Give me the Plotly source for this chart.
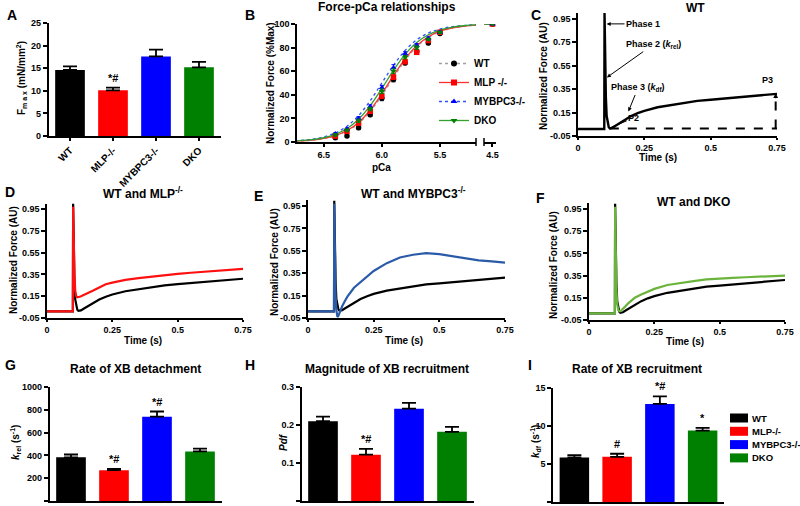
import plotly.graph_objects as go

W, H = 800, 506
FONT = "Liberation Sans, Arial, sans-serif"

# ---------------- data ----------------
groups = ["WT", "MLP-/-", "MYBPC3-/-", "DKO"]
colors = ["#000000", "#ff0000", "#0000ff", "#008000"]

fmax = [14.6, 10.1, 17.6, 15.2]
fmax_err = [0.8, 0.6, 1.5, 1.2]
krel = [383, 270, 740, 435]
krel_err = [25, 12, 45, 25]
pdf = [0.210, 0.122, 0.243, 0.182]
pdf_err = [0.012, 0.015, 0.015, 0.013]
kdf = [5.85, 5.95, 12.9, 9.4]
kdf_err = [0.3, 0.4, 1.0, 0.35]
sig_A = ["", "*#", "", ""]
sig_G = ["", "*#", "*#", ""]
sig_H = ["", "*#", "", ""]
sig_I = ["", "#", "*#", "*"]

pca_pts = [6.4, 6.3, 6.2, 6.1, 6.0, 5.9, 5.8, 5.7, 5.6, 5.5, 4.5]
F_wt = [3.5, 5, 12, 23, 37, 53, 67, 77, 84, 92, 100]
F_mlp = [5, 9, 16, 26, 39, 55, 68, 76, 86, 93, 100]
F_myb = [7, 11, 20, 30, 46, 63, 75, 82, 88, 93, 100]
F_dko = [6, 10, 18, 28, 43, 60, 72, 80, 87, 93, 100]
E_wt = [1, 1, 1.5, 1.5, 2, 2, 1.5, 1.5, 1.5, 1, 0]
E_mlp = [1, 1, 1.5, 1.5, 2, 2, 1.5, 1.5, 1.5, 1, 0]
E_myb = [1, 1, 1.5, 1.5, 2, 2.5, 1.5, 1.5, 1, 1, 0]
E_dko = [1, 1, 1.5, 1.5, 2, 2, 1.5, 1.5, 1, 1, 0]

pca_fit = [6.75, 6.6, 6.5, 6.4, 6.3, 6.2, 6.1, 6.0, 5.9, 5.8, 5.7, 5.6, 5.5, 5.4, 5.3, 5.2, 4.5]
fit_wt = [0.7, 1.5, 2.8, 5.1, 9.1, 15.7, 25.8, 39.3, 54.6, 69.2, 80.7, 88.6, 93.5, 96.4, 98.0, 98.9, 100]
fit_mlp = [0.8, 1.6, 3.0, 5.5, 9.7, 16.6, 27.1, 40.9, 56.2, 70.5, 81.6, 89.2, 93.9, 96.6, 98.1, 99.0, 100]
fit_myb = [1.0, 2.3, 4.3, 7.7, 13.4, 22.4, 35.0, 50.0, 65.0, 77.6, 86.6, 92.3, 95.7, 97.7, 98.7, 99.3, 100]
fit_dko = [0.9, 2.0, 3.6, 6.5, 11.4, 19.3, 30.8, 45.3, 60.7, 74.2, 84.3, 90.9, 94.9, 97.2, 98.5, 99.2, 100]

t = [0, 0.02, 0.04, 0.06, 0.08, 0.099, 0.1, 0.102, 0.105, 0.108, 0.112, 0.116, 0.12, 0.125, 0.13,
     0.14, 0.15, 0.175, 0.2, 0.225, 0.25, 0.3, 0.35, 0.4, 0.45, 0.5, 0.55, 0.6, 0.65, 0.7, 0.75]
tr_wt = [0.01, 0.01, 0.01, 0.01, 0.01, 0.01, 1.0, 0.55, 0.28, 0.12, 0.05, 0.025, 0.015, 0.015, 0.02,
         0.035, 0.05, 0.09, 0.12, 0.145, 0.165, 0.195, 0.215, 0.235, 0.25, 0.26, 0.27, 0.28, 0.29, 0.30, 0.31]
tr_mlp = [0.01, 0.01, 0.01, 0.01, 0.01, 0.01, 0.97, 0.6, 0.35, 0.2, 0.15, 0.14, 0.14, 0.145, 0.15,
          0.16, 0.17, 0.2, 0.23, 0.26, 0.275, 0.30, 0.315, 0.33, 0.345, 0.355, 0.365, 0.375, 0.385, 0.395, 0.40]
tr_myb = [0.01, 0.01, 0.01, 0.01, 0.01, 0.01, 0.97, 0.45, 0.15, 0.02, -0.04, -0.03, 0.0, 0.03, 0.055,
          0.10, 0.14, 0.22, 0.27, 0.325, 0.37, 0.44, 0.49, 0.515, 0.53, 0.52, 0.50, 0.48, 0.465, 0.455, 0.445]
tr_dko = [0.01, 0.01, 0.01, 0.01, 0.01, 0.01, 0.97, 0.5, 0.22, 0.09, 0.04, 0.03, 0.03, 0.04, 0.05,
          0.075, 0.10, 0.15, 0.18, 0.205, 0.23, 0.265, 0.285, 0.30, 0.315, 0.325, 0.33, 0.335, 0.34, 0.345, 0.35]

trace_ticks = [-0.05, 0.15, 0.35, 0.55, 0.75, 0.95]
time_ticks = [0, 0.25, 0.5, 0.75]

# ---------------- helpers ----------------
def xd(a, b):
    return [a / W, b / W]

def yd(top, bottom):
    return [1 - bottom / H, 1 - top / H]

def axstyle(**kw):
    base = dict(showline=True, linecolor="black", linewidth=1.5, ticks="outside", ticklen=4,
                tickwidth=1.5, tickcolor="black", showgrid=False, zeroline=False, automargin=False,
                tickfont=dict(size=9, family=FONT, color="black", weight="bold"))
    base.update(kw)
    return base

fig = go.Figure()
annots = []
shapes = []

def pann(px, py, text, size=10, angle=0, xanchor="center", yanchor="middle"):
    annots.append(dict(x=px / W, y=1 - py / H, xref="paper", yref="paper", text=text, showarrow=False,
                       textangle=angle, xanchor=xanchor, yanchor=yanchor,
                       font=dict(size=size, family=FONT, color="black", weight="bold")))

# ---------------- bar panels ----------------
def bar_panel(xa, ya, vals, errs, sig):
    xr = "x" if xa == 1 else f"x{xa}"
    yr = "y" if ya == 1 else f"y{ya}"
    fig.add_trace(go.Bar(x=groups, y=vals, marker=dict(color=colors, line=dict(width=0)),
                         width=0.69, xaxis=xr, yaxis=yr, showlegend=False,
                         error_y=dict(type="data", array=errs, arrayminus=[0] * len(errs), symmetric=False,
                                      color="black", thickness=1.8, width=7)))
    for i, g in enumerate(groups):
        if sig[i]:
            annots.append(dict(x=g, y=vals[i] + errs[i], xref=xr, yref=yr, text=sig[i], showarrow=False,
                               yanchor="bottom", yshift=2,
                               font=dict(size=11, family=FONT, color="black", weight="bold")))

bar_panel(1, 1, fmax, fmax_err, sig_A)
bar_panel(8, 8, krel, krel_err, sig_G)
bar_panel(9, 9, pdf, pdf_err, sig_H)
bar_panel(10, 10, kdf, kdf_err, sig_I)

# legend for the bar panels (swatch + label per group)
for i, g in enumerate(groups):
    yc = 418 + i * 13.3
    shapes.append(dict(type="rect", xref="paper", yref="paper", x0=730 / W, x1=748 / W,
                       y0=1 - (yc + 4.5) / H, y1=1 - (yc - 4.5) / H,
                       fillcolor=colors[i], line=dict(width=0)))
    pann(750, yc, g, size=9.5, xanchor="left")

# ---------------- panel B ----------------
series = [
    ("WT", F_wt, E_wt, fit_wt, "#000000", "#a0a0a0", "dot", "circle"),
    ("MLP -/-", F_mlp, E_mlp, fit_mlp, "#ff0000", "#ff3030", "solid", "square"),
    ("MYBPC3-/-", F_myb, E_myb, fit_myb, "#0000ff", "#3050ff", "dot", "triangle-up"),
    ("DKO", F_dko, E_dko, fit_dko, "#008000", "#30a030", "solid", "triangle-down"),
]
for name, F, E, fit, mc, lc, dash, sym in series:
    for xr in ["x2", "x3"]:
        fig.add_trace(go.Scatter(x=pca_fit, y=fit, mode="lines", line=dict(color=lc, width=1.3, dash=dash, shape="spline"),
                                 xaxis=xr, yaxis="y2", showlegend=False, hoverinfo="skip"))
for name, F, E, fit, mc, lc, dash, sym in series:
    for xr in ["x2", "x3"]:
        fig.add_trace(go.Scatter(x=pca_pts, y=F, mode="markers",
                                 marker=dict(color=mc, size=5.5, symbol=sym),
                                 error_y=dict(type="data", array=E, color=mc, thickness=1, width=2),
                                 xaxis=xr, yaxis="y2", showlegend=False))
    fig.add_trace(go.Scatter(x=[None], y=[None], mode="lines+markers", name=name,
                             line=dict(color=lc, width=1.3, dash=dash),
                             marker=dict(color=mc, size=6, symbol=sym), xaxis="x2", yaxis="y2",
                             legend="legend"))

# ---------------- traces C-F ----------------
def trace(xr, yr, y, color, width=2.2):
    fig.add_trace(go.Scatter(x=t, y=y, mode="lines", line=dict(color=color, width=width),
                             xaxis=xr, yaxis=yr, showlegend=False))

trace("x4", "y4", tr_wt, "#000000", 2.4)
trace("x5", "y5", tr_wt, "#000000")
trace("x5", "y5", tr_mlp, "#ff1010")
trace("x6", "y6", tr_wt, "#000000")
trace("x6", "y6", tr_myb, "#2b5ba8")
trace("x7", "y7", tr_wt, "#000000")
trace("x7", "y7", tr_dko, "#6ab43c")

# ---------------- layout axes ----------------
layout = dict(
    template="none",
    width=W, height=H, autosize=False, margin=dict(l=0, r=0, t=0, b=0, pad=0),
    paper_bgcolor="white", plot_bgcolor="white",
    barmode="overlay", font=dict(family=FONT, color="black", weight="bold"),
)
cat_common = dict(type="category", categoryorder="array", categoryarray=groups, range=[-0.5, 3.5])
layout["xaxis"] = axstyle(domain=xd(48.5, 220.5), anchor="y", tickangle=-45, ticklen=3,
                          tickfont=dict(size=10, family=FONT, color="black", weight="bold"), **cat_common)
layout["yaxis"] = axstyle(domain=yd(23, 136), anchor="x", range=[0, 25], tickvals=[0, 5, 10, 15, 20, 25])

layout["xaxis2"] = axstyle(domain=xd(297, 476), anchor="y2", range=[6.73, 5.19], tickvals=[6.5, 6.0, 5.5],
                           ticktext=["6.5", "6.0", "5.5"], ticklen=3)
layout["xaxis3"] = axstyle(domain=xd(484, 496), anchor="y2", range=[4.62, 4.45], tickvals=[4.5], ticktext=["4.5"],
                           ticklen=3)
layout["yaxis2"] = axstyle(domain=yd(24, 142), anchor="x2", range=[0, 100], tickvals=[0, 20, 40, 60, 80, 100])

trace_axes = {4: (578, 777, 13, 136), 5: (47, 243, 203.5, 318), 6: (308, 505, 200.4, 318), 7: (589, 785, 203.4, 320)}
for k, (x0, x1, y0, y1) in trace_axes.items():
    layout[f"xaxis{k}"] = axstyle(domain=xd(x0, x1), anchor=f"y{k}", range=[0, 0.75], tickvals=time_ticks,
                                  ticktext=["0", "0.25", "0.5", "0.75"], ticklen=2)
    layout[f"yaxis{k}"] = axstyle(domain=yd(y0, y1), anchor=f"x{k}", range=[-0.05, 1.0], tickvals=trace_ticks,
                                  ticktext=["-0.05", "0.15", "0.35", "0.55", "0.75", "0.95"])

layout["xaxis8"] = axstyle(domain=xd(49.5, 221.5), anchor="y8", showticklabels=False, ticks="", **cat_common)
layout["yaxis8"] = axstyle(domain=yd(387, 501), anchor="x8", range=[0, 1000], tickvals=[0, 200, 400, 600, 800, 1000])
layout["xaxis9"] = axstyle(domain=xd(301.5, 473.5), anchor="y9", showticklabels=False, ticks="", **cat_common)
layout["yaxis9"] = axstyle(domain=yd(387, 501), anchor="x9", range=[0, 0.3], tickvals=[0, 0.1, 0.2, 0.3],
                           ticktext=["0.0", "0.1", "0.2", "0.3"])
layout["xaxis10"] = axstyle(domain=xd(553, 724), anchor="y10", showticklabels=False, ticks="", **cat_common)
layout["yaxis10"] = axstyle(domain=yd(388, 502), anchor="x10", range=[0, 15], tickvals=[0, 5, 10, 15])

layout["showlegend"] = True
layout["legend"] = dict(x=434 / W, y=1 - 49 / H, xanchor="left", yanchor="top", bgcolor="rgba(0,0,0,0)",
                        font=dict(size=10, family=FONT, color="black", weight="bold"), tracegroupgap=0,
                        itemwidth=30, borderwidth=0)

# ---------------- text ----------------
for letter, px, py in [("A", 12, 15), ("B", 250, 15), ("C", 536, 15), ("D", 10, 192), ("E", 258, 196),
                       ("F", 540, 198), ("G", 10, 365), ("H", 250, 365), ("I", 530, 365)]:
    pann(px, py, letter, size=14)

pann(387, 7, "Force-pCa relationships", size=12)
pann(695, 8, "WT", size=12)
pann(143, 193, "WT and MLP<sup>-/-</sup>", size=12)
pann(413, 193, "WT and MYBPC3<sup>-/-</sup>", size=12)
pann(693, 202, "WT and DKO", size=12)
pann(135, 369, "Rate of XB detachment", size=12)
pann(387, 369, "Magnitude of XB recruitment", size=12)
pann(637, 369, "Rate of XB recruitment", size=12)

pann(21, 78, "F<sub>m a x</sub> (mN/mm<sup>2</sup>)", size=10, angle=-90)
pann(271, 83, "Normalized Force (%Max)", size=10, angle=-90)
pann(381, 167, "pCa", size=10)
pann(543, 76, "Normalized Force (AU)", size=10, angle=-90)
pann(658, 157, "Time (s)", size=10)
pann(13, 260, "Normalized Force (AU)", size=10, angle=-90)
pann(143, 340, "Time (s)", size=10)
pann(274, 262, "Normalized Force (AU)", size=10, angle=-90)
pann(404, 340, "Time (s)", size=10)
pann(553, 265, "Normalized Force (AU)", size=10, angle=-90)
pann(685, 341, "Time (s)", size=10)
pann(15, 443, "<i>k</i><sub>rel</sub> (s<sup>-1</sup>)", size=10, angle=-90)
pann(283, 442, "<i>Pdf</i>", size=10, angle=-90)
pann(535, 442, "<i>k</i><sub>df</sub> (s<sup>-1</sup>)", size=10, angle=-90)

cf = dict(size=9, family=FONT, color="black", weight="bold")
def cann(x, y, text, ax=None, ay=None, head=2):
    d = dict(x=x, y=y, xref="x4", yref="y4", text=text, font=cf)
    if ax is None:
        d["showarrow"] = False
    else:
        d.update(showarrow=True, ax=ax, ay=ay, axref="x4", ayref="y4", arrowhead=head, arrowsize=0.8,
                 arrowwidth=1, arrowcolor="black")
    annots.append(d)

cann(0.1, 1.035, "P1")
cann(0.108, 0.907, "Phase 1", 0.245, 0.907)
cann(0.109, 0.45, "Phase 2 (<i>k</i><sub>rel</sub>)", 0.283, 0.73)
cann(0.19, 0.16, "Phase 3 (<i>k</i><sub>df</sub>)", 0.226, 0.36)
cann(0.118, 0.018, "P2", 0.21, 0.104, head=0)
cann(0.713, 0.43, "P3")
cann(0.775, 0.10, "P<sub>df</sub>")
annots.append(dict(x=0.745, y=0.315, xref="x4", yref="y4", ax=0.745, ay=0.26, axref="x4", ayref="y4",
                   text="", showarrow=True, arrowhead=2, arrowsize=0.8, arrowwidth=1.2, arrowcolor="black"))

shapes += [
    dict(type="line", xref="x4", yref="y4", x0=0.12, x1=0.75, y0=0.015, y1=0.015,
         line=dict(color="black", width=2, dash="dash")),
    dict(type="line", xref="x4", yref="y4", x0=0.745, x1=0.745, y0=0.015, y1=0.28,
         line=dict(color="black", width=2, dash="dash")),
]
for bx in [476, 484]:
    shapes.append(dict(type="line", xref="paper", yref="paper", x0=bx / W, x1=bx / W,
                       y0=1 - 146 / H, y1=1 - 138 / H, line=dict(color="black", width=1.5)))

layout["annotations"] = annots
layout["shapes"] = shapes
fig.update_layout(**layout)
fig.write_html("out.html", config={"displayModeBar": False},
               post_script="document.documentElement.style.overflow='hidden';document.body.style.overflow='hidden';document.body.style.margin='0';document.body.style.padding='0';")
